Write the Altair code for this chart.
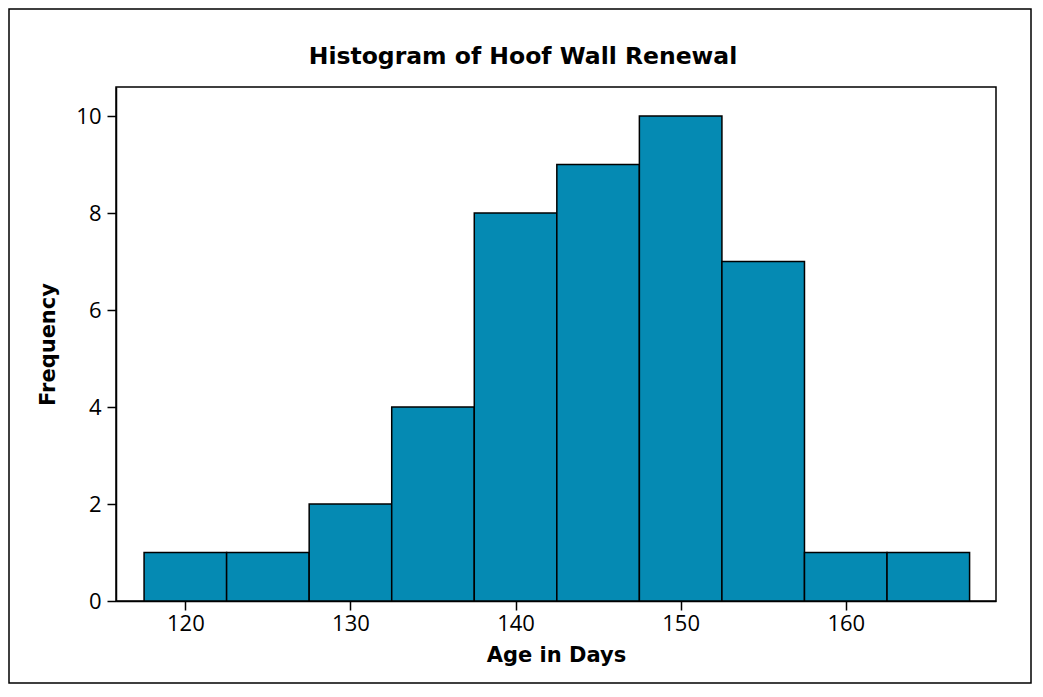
import altair as alt
import pandas as pd

bin_start = [117.5, 122.5, 127.5, 132.5, 137.5, 142.5, 147.5, 152.5, 157.5, 162.5]
bin_end = [122.5, 127.5, 132.5, 137.5, 142.5, 147.5, 152.5, 157.5, 162.5, 167.5]
counts = [1, 1, 2, 4, 8, 9, 10, 7, 1, 1]
x_ticks = [120, 130, 140, 150, 160]
y_ticks = [0, 2, 4, 6, 8, 10]
title_text = ["Histogram of Hoof Wall Renewal"]

df = pd.DataFrame({"start": bin_start, "end": bin_end, "count": counts})

FONT = "Open Sans"
BOLD_FONT = "DejaVu Sans"
PW, PH = 880, 514

bars = alt.Chart(df).mark_rect(
    fill="#058AB3", stroke="black", strokeWidth=1.5
).encode(
    x=alt.X("start:Q",
            scale=alt.Scale(domain=[115.8, 169.1], nice=False, zero=False),
            axis=alt.Axis(values=x_ticks, title="Age in Days", grid=False,
                          tickSize=9, labelPadding=3, titlePadding=10,
                          format="d")),
    x2="end:Q",
    y=alt.Y("count:Q",
            scale=alt.Scale(domain=[0, 10.6], nice=False),
            axis=alt.Axis(values=y_ticks, title="Frequency", grid=False,
                          tickSize=9, labelPadding=6, titlePadding=17)),
    y2=alt.datum(0),
)

frame = alt.Chart(pd.DataFrame({"a": [0]})).mark_rect(
    filled=False, stroke="black", strokeWidth=1.5
).encode(
    x=alt.value(-107), x2=alt.value(915),
    y=alt.value(-78), y2=alt.value(596),
)

title = alt.Chart(pd.DataFrame({"t": title_text})).mark_text(
    font=BOLD_FONT, fontSize=23.5, fontWeight="bold", color="black",
    align="center", baseline="alphabetic"
).encode(
    text="t:N", x=alt.value(407), y=alt.value(-23),
)

chart = alt.layer(bars, frame, title).properties(
    width=PW, height=PH,
    padding={"left": 108, "top": 79, "right": 36, "bottom": 83},
    autosize=alt.AutoSizeParams(type="none"),
    background="white",
).configure_view(
    stroke="black", strokeWidth=1.5
).configure_axis(
    domainColor="black", domainWidth=1.5, tickColor="black", tickWidth=1.5,
    labelFont=FONT, labelFontSize=22, labelColor="black",
    titleFont=BOLD_FONT, titleFontSize=21, titleFontWeight="bold", titleColor="black",
)

chart.save("out.html", embed_options={"renderer": "svg", "actions": False})
